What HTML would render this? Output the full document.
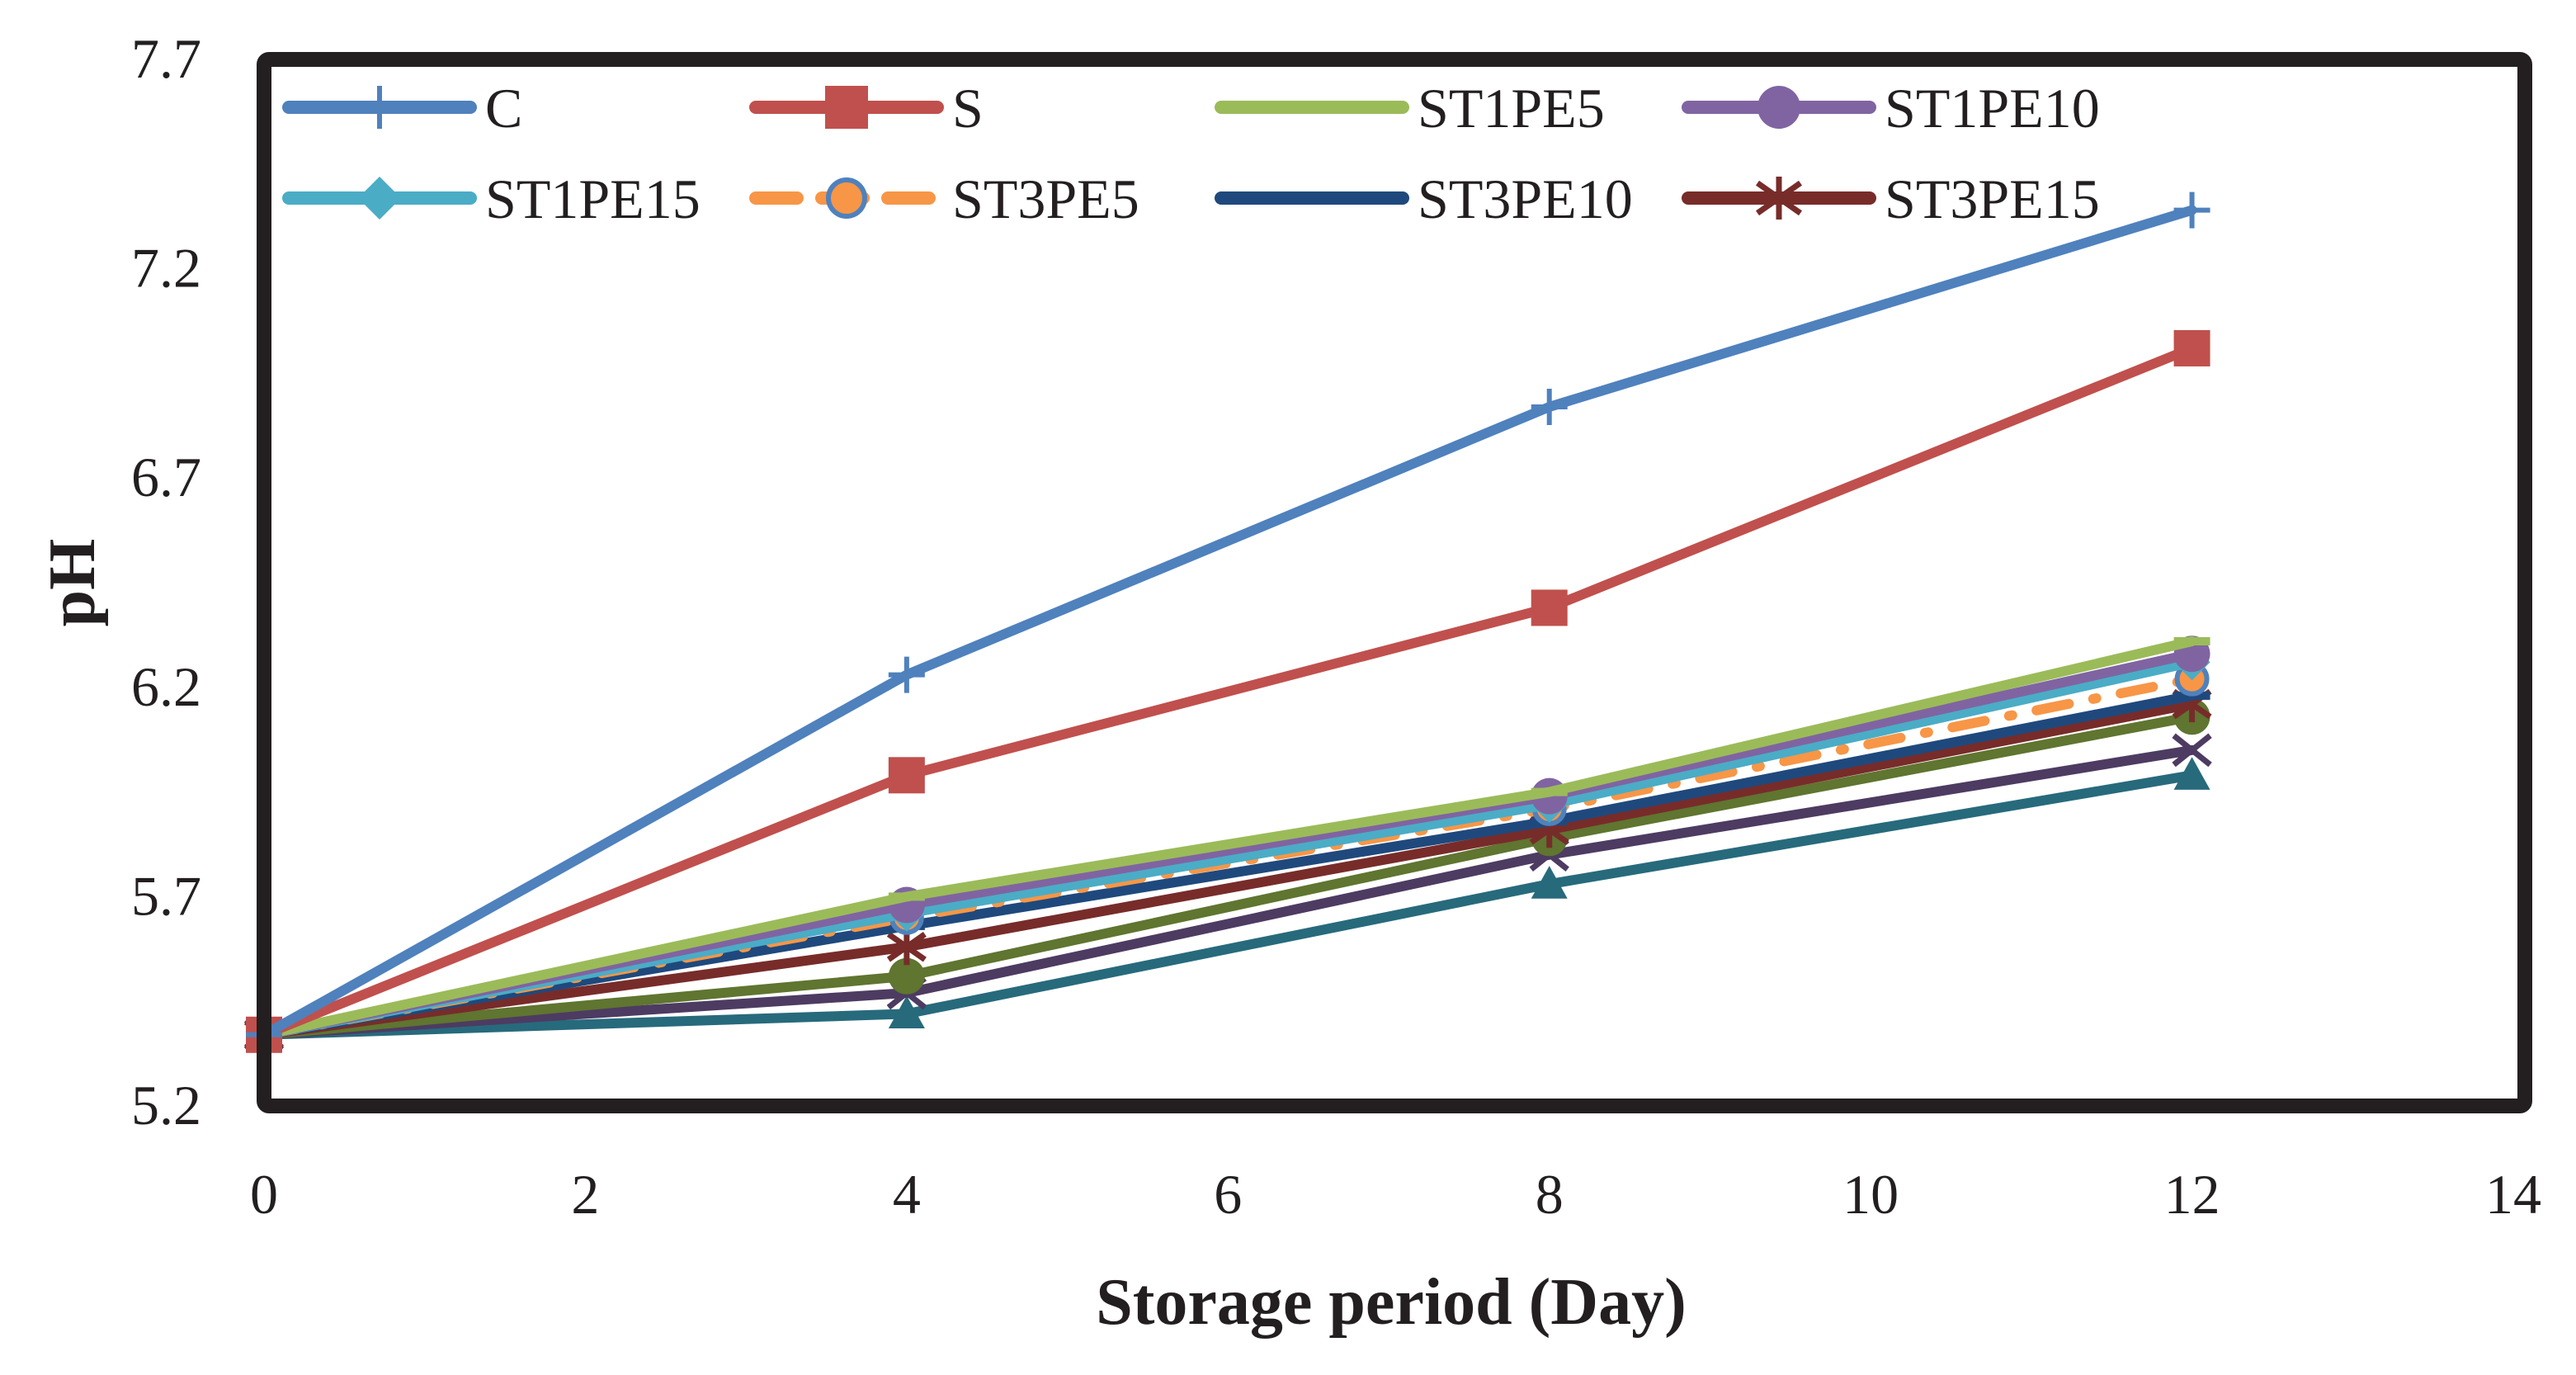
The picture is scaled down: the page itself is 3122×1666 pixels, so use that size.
<!DOCTYPE html>
<html><head><meta charset="utf-8"><style>
html,body{margin:0;padding:0;background:#fff}
svg{display:block}
text{font-family:"Liberation Serif",serif;fill:#231f20}
</style></head><body>
<svg id="chart" width="3122" height="1666" viewBox="0 0 3122 1666" xmlns="http://www.w3.org/2000/svg">
<g id="plot"></g>
<g id="axes"></g>
<g id="legend"></g>
</svg>
<script>
const days = [0, 4, 8, 12];
const xTicks = [0, 2, 4, 6, 8, 10, 12, 14];
const yTicks = [5.2, 5.7, 6.2, 6.7, 7.2, 7.7];
const seriesNames = ["C","S","ST1PE5","ST1PE10","ST1PE15","ST3PE5","ST3PE10","ST3PE15","extra-circle","extra-x","extra-triangle"];
const valC = [5.37, 6.23, 6.87, 7.34];
const valS = [5.37, 5.99, 6.39, 7.01];
const valST1PE5 = [5.37, 5.70, 5.95, 6.31];
const valST1PE10 = [5.37, 5.68, 5.94, 6.28];
const valST1PE15 = [5.37, 5.66, 5.92, 6.26];
const valST3PE5 = [5.37, 5.65, 5.91, 6.22];
const valST3PE10 = [5.37, 5.63, 5.88, 6.18];
const valST3PE15 = [5.37, 5.58, 5.86, 6.16];
const valExtraCircle = [5.37, 5.51, 5.84, 6.13];
const valExtraX = [5.37, 5.47, 5.80, 6.05];
const valExtraTri = [5.37, 5.42, 5.73, 5.99];

const NS = "http://www.w3.org/2000/svg";
const X0 = 320, X1 = 3046, Y0 = 1340, Y1 = 72;
const xs = v => X0 + (v - 0) / 14 * (X1 - X0);
const ys = v => Y0 - (v - 5.2) / 2.5 * (Y0 - Y1);
function mk(tag, attrs, parent){ const e = document.createElementNS(NS, tag); for (const k in attrs) e.setAttribute(k, attrs[k]); parent.appendChild(e); return e; }

const styles = [
 {vals: valC, color:"#4f81bd", m:"plus", dash:null},
 {vals: valS, color:"#c0504d", m:"square", dash:null},
 {vals: valST1PE5, color:"#9bbb59", m:"dash", dash:null},
 {vals: valST1PE10, color:"#8064a2", m:"circle", dash:null},
 {vals: valST1PE15, color:"#4bacc6", m:"diamond", dash:null},
 {vals: valST3PE5, color:"#f79646", m:"ocircle", dash:"40 30 4 30"},
 {vals: valST3PE10, color:"#1f497d", m:"dash", dash:null},
 {vals: valST3PE15, color:"#772c2a", m:"star", dash:null},
 {vals: valExtraCircle, color:"#5f7530", m:"circle", dash:null},
 {vals: valExtraX, color:"#4d3b62", m:"x", dash:null},
 {vals: valExtraTri, color:"#276a7c", m:"tri", dash:null}
];

function marker(g, type, cx, cy, color, s){
  let e;
  if (type==="plus"){ e=mk("path",{d:`M${cx-s} ${cy}H${cx+s}M${cx} ${cy-s}V${cy+s}`,stroke:color,"stroke-width":6,fill:"none"},g); }
  else if (type==="square"){ e=mk("rect",{x:cx-s,y:cy-s,width:2*s,height:2*s,fill:color},g); }
  else if (type==="dash"){ e=mk("rect",{x:cx-s,y:cy-5,width:2*s,height:10,fill:color},g); }
  else if (type==="circle"){ e=mk("circle",{cx:cx,cy:cy,r:s,fill:color},g); }
  else if (type==="ocircle"){ e=mk("circle",{cx:cx,cy:cy,r:s-4,fill:"#f79646",stroke:"#4f81bd","stroke-width":6},g); }
  else if (type==="diamond"){ e=mk("path",{d:`M${cx} ${cy-s}L${cx+s} ${cy}L${cx} ${cy+s}L${cx-s} ${cy}Z`,fill:color},g); }
  else if (type==="star"){ e=mk("path",{d:`M${cx} ${cy-s}V${cy+s}M${cx-s} ${cy-s*0.7}L${cx+s} ${cy+s*0.7}M${cx-s} ${cy+s*0.7}L${cx+s} ${cy-s*0.7}`,stroke:color,"stroke-width":7,fill:"none"},g); }
  else if (type==="x"){ e=mk("path",{d:`M${cx-s} ${cy-s*0.8}L${cx+s} ${cy+s*0.8}M${cx-s} ${cy+s*0.8}L${cx+s} ${cy-s*0.8}`,stroke:color,"stroke-width":7,fill:"none"},g); }
  else if (type==="tri"){ e=mk("path",{d:`M${cx} ${cy-s}L${cx+s} ${cy+s*0.8}L${cx-s} ${cy+s*0.8}Z`,fill:color},g); }
  return e;
}

const plot = document.getElementById("plot");
for (let i = styles.length-1; i >= 0; i--){
  const st = styles[i];
  const g = mk("g",{},plot);
  
  
  const pts = days.map((d,j)=>xs(d)+","+ys(st.vals[j])).join(" ");
  const pl = mk("polyline",{points:pts,fill:"none",stroke:st.color,"stroke-width":12,"stroke-linejoin":"round","stroke-linecap":"round"},g);
  if (st.dash) pl.setAttribute("stroke-dasharray", st.dash);
  
  
  days.forEach((d,j)=>{
    const m = marker(g, st.m, xs(d), ys(st.vals[j]), st.color, 22);
    
    
  });
}

const axes = document.getElementById("axes");
const frame = mk("rect",{x:X0,y:Y1,width:X1-X0+14,height:Y0-Y1,fill:"none",stroke:"#231f20","stroke-width":18,rx:6},axes);


xTicks.forEach(t=>{
  const e = mk("text",{x:xs(t),y:1470,"font-size":68,"text-anchor":"middle"},axes);
  e.textContent = t;
  
  
});
yTicks.forEach(t=>{
  const e = mk("text",{x:244,y:ys(t)+22,"font-size":68,"text-anchor":"end"},axes);
  e.textContent = t.toFixed(1);
  
  
});
const xt = mk("text",{x:1686,y:1604,"font-size":80,"font-weight":"bold","text-anchor":"middle"},axes);
xt.textContent = "Storage period (Day)";


const yt = mk("text",{x:0,y:0,"font-size":80,"font-weight":"bold","text-anchor":"middle",transform:"translate(114,706) rotate(-90)"},axes);
yt.textContent = "pH";



const legend = document.getElementById("legend");
const colX = [350, 916, 1480, 2046];
const rowY = [130, 240];
for (let i=0;i<8;i++){
  const st = styles[i], cx = colX[i%4], cy = rowY[Math.floor(i/4)];
  const g = mk("g",{},legend);
  
  
  const l = mk("line",{x1:cx,y1:cy,x2:cx+220,y2:cy,stroke:st.color,"stroke-width":16,"stroke-linecap":"round"},g);
  if (st.dash) l.setAttribute("stroke-dasharray","50 30");
  marker(g, st.m, cx+110, cy, st.color, 26);
  const t = mk("text",{x:cx+238,y:cy+24,"font-size":68},g);
  t.textContent = seriesNames[i];
}
</script>
</body></html>
